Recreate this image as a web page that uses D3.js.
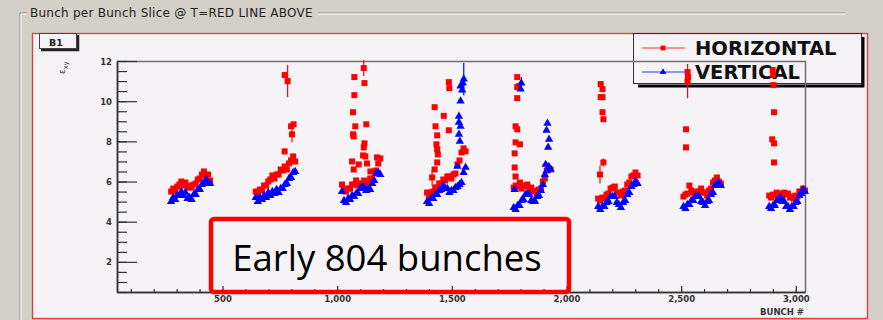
<!DOCTYPE html>
<html>
<head>
<meta charset="utf-8">
<script src="https://cdn.jsdelivr.net/npm/d3@7"></script>
<style>
  body { margin: 0; background: #d4d0c8; overflow: hidden; }
  svg { display: block; }
</style>
</head>
<body>
<svg id="chart" width="883" height="320"></svg>
<script>
// bunch trains: first / last bunch number of each train
const trainFirst = [276, 645, 1021, 1392, 1770, 2138, 2510, 2884];
const trainLast  = [446, 817, 1188, 1560, 1931, 2310, 2673, 3040];

// emittance along each train (equally spaced bunches), horizontal
const hTrains = [
  [5.5, 5.65, 5.5, 5.75, 5.85, 6.0, 5.8, 5.95, 5.7, 5.8, 5.7, 5.85, 5.9, 6.1, 6.15, 6.35, 6.5, 6.3, 6.35, 6.05],
  [5.5, 5.4, 5.6, 5.55, 5.8, 5.8, 6.0, 6.1, 6.3, 6.15, 6.35, 6.35, 6.6, 6.55, 6.75, 6.6, 6.9, 7.05, 7.25, 7.0],
  [5.85, 5.6, 5.5, 5.65, 5.65, 5.85, 5.85, 6.05, 5.8, 5.9, 5.9, 6.05, 6.0, 5.9, 6.15, 6.15, 6.5, 6.55, 6.9, 7.15],
  [5.45, 5.25, 5.45, 5.5, 5.7, 5.7, 5.9, 5.9, 6.1, 6.05, 6.25, 6.25, 6.15, 6.35, 6.4, 6.85, 7.05, 7.45, 7.65, 7.5],
  [5.7, 5.8, 5.75, 5.8, 5.65, 5.8, 5.75, 5.85, 5.65, 5.7, 5.5, 5.55, 5.4, 5.6, 5.65, 6.0, 6.15, 6.55, 6.65, 6.6],
  [5.15, 5.05, 5.2, 5.15, 5.35, 5.4, 5.65, 5.7, 5.75, 5.45, 5.45, 5.3, 5.5, 5.55, 5.85, 5.95, 6.25, 6.3, 6.45, 6.3],
  [5.25, 5.35, 5.4, 5.8, 5.55, 5.45, 5.3, 5.5, 5.5, 5.65, 5.45, 5.45, 5.3, 5.55, 5.65, 5.95, 6.05, 6.2, 6.0, 5.9],
  [5.3, 5.2, 5.35, 5.3, 5.45, 5.35, 5.4, 5.3, 5.45, 5.35, 5.4, 5.2, 5.25, 5.15, 5.3, 5.25, 5.5, 5.5, 5.65, 5.55]
];

// vertical
const vTrains = [
  [5.0, 5.2, 5.1, 5.3, 5.3, 5.5, 5.3, 5.45, 5.15, 5.2, 5.1, 5.35, 5.35, 5.6, 5.6, 5.85, 5.9, 6.1, 5.9, 5.9],
  [5.2, 5.0, 5.2, 5.1, 5.3, 5.2, 5.45, 5.3, 5.5, 5.4, 5.6, 5.45, 5.65, 5.65, 5.85, 5.9, 6.15, 6.2, 6.45, 6.5],
  [5.5, 5.05, 4.95, 5.15, 5.1, 5.3, 5.25, 5.4, 5.4, 5.65, 5.7, 5.7, 5.55, 5.6, 5.6, 5.9, 6.05, 6.4, 6.45, 6.35],
  [5.0, 4.9, 5.15, 5.15, 5.35, 5.35, 5.55, 5.6, 5.8, 5.65, 5.65, 5.45, 5.55, 5.55, 5.7, 5.75, 5.85, 5.95, 6.45, 6.7],
  [4.7, 4.6, 4.8, 4.8, 5.05, 5.1, 5.35, 5.35, 5.35, 5.05, 5.0, 5.0, 5.25, 5.3, 5.55, 5.85, 6.35, 6.55, 6.75, 6.6],
  [4.75, 4.6, 4.75, 4.75, 4.95, 5.0, 5.25, 5.25, 5.25, 4.95, 4.85, 4.7, 4.95, 5.05, 5.35, 5.45, 5.75, 5.85, 6.0, 5.9],
  [4.75, 4.65, 4.85, 4.85, 5.05, 5.05, 5.25, 5.25, 5.25, 5.0, 4.95, 4.8, 5.0, 5.05, 5.35, 5.45, 5.8, 5.9, 5.95, 5.8],
  [4.75, 4.65, 4.8, 4.8, 5.05, 5.05, 5.2, 5.0, 5.0, 4.75, 4.75, 4.6, 4.75, 4.75, 4.95, 5.0, 5.3, 5.4, 5.6, 5.5]
];

// blown-up bunches: [bunch, emittance, error]
const hSpikes = [
  [771, 11.3, 0], [784, 11.0, 0.8], [799, 8.75, 0], [803, 8.35, 0.4], [810, 8.85, 0], [771, 7.5, 0.15], [799, 7.0, 0],
  [1116, 11.65, 0.4], [1075, 11.2, 0], [1119, 10.9, 0], [1075, 10.3, 0], [1069, 9.45, 0], [1079, 8.75, 0],
  [1127, 8.85, 0], [1069, 8.35, 0], [1072, 8.25, 0], [1119, 7.9, 0], [1116, 7.7, 0], [1113, 7.3, 0],
  [1123, 7.25, 0], [1065, 7.0, 0], [1072, 6.6, 0], [1094, 6.85, 0], [1130, 6.9, 0], [1174, 7.2, 0], [1145, 6.5, 0],
  [1487, 10.95, 0], [1489, 10.65, 0], [1425, 9.7, 0], [1465, 9.27, 0], [1429, 8.75, 0], [1487, 8.55, 0],
  [1436, 8.3, 0], [1433, 7.85, 0], [1436, 7.6, 0], [1439, 7.35, 0], [1436, 6.95, 0], [1425, 6.6, 0], [1414, 6.2, 0.4],
  [1785, 11.2, 0], [1785, 10.7, 0], [1793, 10.75, 0], [1785, 10.15, 0], [1778, 8.75, 0], [1785, 8.6, 0],
  [1778, 7.95, 0], [1797, 7.85, 0], [1774, 7.4, 0], [1774, 6.7, 0], [1778, 6.25, 0], [1797, 5.95, 0],
  [2149, 10.85, 0], [2157, 10.6, 0], [2149, 10.2, 0], [2157, 10.2, 0], [2157, 9.45, 0], [2161, 9.1, 0],
  [2161, 6.95, 0.2], [2146, 6.35, 0.45],
  [2528, 11.45, 0], [2530, 11.2, 0], [2528, 11.0, 0.85], [2521, 8.6, 0], [2521, 7.7, 0],
  [2899, 11.55, 0], [2901, 11.3, 0], [2903, 10.8, 0], [2905, 9.45, 0], [2897, 8.1, 0], [2905, 7.9, 0], [2905, 6.95, 0]
];
const vSpikes = [
  [1552, 11.1, 0.8], [1548, 10.9, 0], [1538, 10.75, 0], [1545, 10.55, 0], [1538, 10.0, 0], [1531, 9.25, 0],
  [1531, 8.95, 0], [1538, 8.75, 0], [1531, 8.35, 0], [1535, 8.0, 0], [1524, 6.75, 0],
  [1803, 10.9, 0.3], [1800, 10.6, 0], [1917, 8.9, 0], [1913, 8.55, 0], [1924, 8.1, 0], [1920, 7.7, 0],
  [1909, 6.85, 0], [1774, 5.6, 0]
];

const yMajor = [2, 4, 6, 8, 10, 12];
const xMajor = [500, 1000, 1500, 2000, 2500, 3000];

const svg = d3.select('#chart');

// flatten trains into points
function flatten(trains, spikes) {
  var pts = [];
  trains.forEach(function (vals, t) {
    var step = (trainLast[t] - trainFirst[t]) / (vals.length - 1);
    vals.forEach(function (v, i) { pts.push({ b: trainFirst[t] + i * step, v: v, e: 0 }); });
  });
  spikes.forEach(function (s) { pts.push({ b: s[0], v: s[1], e: s[2] }); });
  return pts;
}
var hPts = flatten(hTrains, hSpikes);
var vPts = flatten(vTrains, vSpikes);

// window / group box
svg.append('rect').attr('width', 883).attr('height', 320).attr('fill', '#d4d0c8');
var etch = svg.append('g');
[['#8d8a85', 0], ['#ffffff', 1]].forEach(function (c) {
  etch.append('path')
    .attr('d', 'M27,' + (13 + c[1]) + 'H' + (20 + c[1]) + 'V320M318,' + (13 + c[1]) + 'H845')
    .attr('fill', 'none').attr('stroke', c[0]).attr('stroke-width', 1);
});
svg.append('text').attr('x', 30).attr('y', 17)
  .attr('font-family', 'DejaVu Sans').attr('font-size', 12).attr('letter-spacing', 0.25).attr('fill', '#222')
  .text('Bunch per Bunch Slice @ T=RED LINE ABOVE');

// canvas
svg.append('rect').attr('x', 32.5).attr('y', 33.5).attr('width', 835).attr('height', 285)
  .attr('fill', '#f6f3f6').attr('stroke', '#e23a3a').attr('stroke-width', 1.3);

var x = d3.scaleLinear().domain([40, 3040]).range([117, 805]);
var y = d3.scaleLinear().domain([0.5, 12]).range([292, 61]);

// legend box with shadow
var leg = svg.append('g');
leg.append('path').attr('d', 'M863,37V86H638').attr('fill', 'none').attr('stroke', '#000').attr('stroke-width', 3);
leg.append('rect').attr('x', 633.5).attr('y', 33.5).attr('width', 228).attr('height', 50)
  .attr('fill', 'none').attr('stroke', '#333').attr('stroke-width', 1);

// frame
svg.append('path').attr('d', 'M117,61.5H805.5V292')
  .attr('fill', 'none').attr('stroke', '#6e6e6e').attr('stroke-width', 1.5);

// axes
var font = 'DejaVu Sans';
function styleAxis(g) {
  g.select('.domain').attr('stroke', '#333').attr('stroke-width', 1.5);
  g.selectAll('.tick line').attr('stroke', '#333').attr('stroke-width', 1.2);
  g.selectAll('text').attr('font-family', font).attr('font-size', 8.5)
    .attr('font-weight', 'bold').attr('fill', '#333');
}
svg.append('g').attr('transform', 'translate(117,0)')
  .call(d3.axisLeft(y).tickValues(d3.range(0.5, 12.01, 0.5)).tickSizeInner(-10).tickSizeOuter(0).tickFormat(''))
  .call(styleAxis);
svg.append('g').attr('transform', 'translate(117,0)')
  .call(d3.axisLeft(y).tickValues(yMajor).tickSizeInner(-20).tickSizeOuter(0).tickPadding(5))
  .call(styleAxis)
  .selectAll('text').attr('dy', '0.36em');
svg.append('g').attr('transform', 'translate(0,292)')
  .call(d3.axisBottom(x).tickValues(d3.range(100, 3001, 100)).tickSizeInner(-3).tickSizeOuter(0).tickFormat(''))
  .call(styleAxis);
svg.append('g').attr('transform', 'translate(0,292)')
  .call(d3.axisBottom(x).tickValues(xMajor).tickSizeInner(-6).tickSizeOuter(0).tickPadding(4))
  .call(styleAxis)
  .selectAll('text').attr('dy', '0.75em');

svg.append('text').attr('x', 804).attr('y', 315).attr('text-anchor', 'end')
  .attr('font-family', font).attr('font-size', 8.5).attr('font-weight', 'bold').attr('fill', '#333')
  .text('BUNCH #');

// y title
var yt = svg.append('text').attr('transform', 'translate(65,74) rotate(-90)')
  .attr('font-family', font).attr('font-size', 9).attr('fill', '#333');
yt.append('tspan').text('ε');
yt.append('tspan').attr('dy', 3).attr('font-size', 6.5).text('xy');

// data
var sq = d3.symbol().type(d3.symbolSquare).size(36);
var tri = d3.symbol().type(d3.symbolTriangle).size(30);

function drawSeries(pts, color, sym) {
  var g = svg.append('g');
  g.selectAll('line').data(pts.filter(function (d) { return d.e > 0; })).enter().append('line')
    .attr('x1', function (d) { return x(d.b); }).attr('x2', function (d) { return x(d.b); })
    .attr('y1', function (d) { return y(d.v - d.e); }).attr('y2', function (d) { return y(d.v + d.e); })
    .attr('stroke', color).attr('stroke-width', 1.2);
  g.selectAll('path').data(pts).enter().append('path')
    .attr('transform', function (d) { return 'translate(' + x(d.b) + ',' + y(d.v) + ')'; })
    .attr('d', sym).attr('fill', color);
}
drawSeries(hPts, '#ff0000', sq);
drawSeries(vPts, '#0000ff', tri);

// legend entries
var entries = [['HORIZONTAL', '#ff3030', '#ff0000', sq, 48], ['VERTICAL', '#3030ff', '#0000ff', tri, 72]];
entries.forEach(function (e) {
  leg.append('line').attr('x1', 642).attr('x2', 685).attr('y1', e[4]).attr('y2', e[4])
    .attr('stroke', e[1]).attr('stroke-width', 1);
  leg.append('path').attr('transform', 'translate(663,' + e[4] + ') scale(0.8)').attr('d', e[3]).attr('fill', e[2]);
  leg.append('text').attr('x', 695).attr('y', e[4] + 7)
    .attr('font-family', font).attr('font-size', 19.5).attr('font-weight', 'bold').attr('fill', '#111')
    .text(e[0]);
});

// B1 tab
var tab = svg.append('g');
tab.append('path').attr('d', 'M78,35V50H41').attr('fill', 'none').attr('stroke', '#222').attr('stroke-width', 2.5);
tab.append('rect').attr('x', 39.5).attr('y', 33.5).attr('width', 37).attr('height', 15)
  .attr('fill', '#f6f3f6').attr('stroke', '#444').attr('stroke-width', 1);
tab.append('text').attr('x', 56).attr('y', 46).attr('text-anchor', 'middle')
  .attr('font-family', font).attr('font-size', 9.5).attr('font-weight', 'bold').attr('fill', '#222')
  .text('B1');

// annotation
svg.append('rect').attr('x', 211).attr('y', 219).attr('width', 358).attr('height', 73).attr('rx', 3)
  .attr('fill', 'none').attr('stroke', '#ff0000').attr('stroke-width', 4.5);
svg.append('text').attr('x', 387).attr('y', 271).attr('text-anchor', 'middle')
  .attr('font-family', 'Open Sans').attr('font-size', 36.5).attr('fill', '#000')
  .text('Early 804 bunches');
</script>
</body>
</html>
